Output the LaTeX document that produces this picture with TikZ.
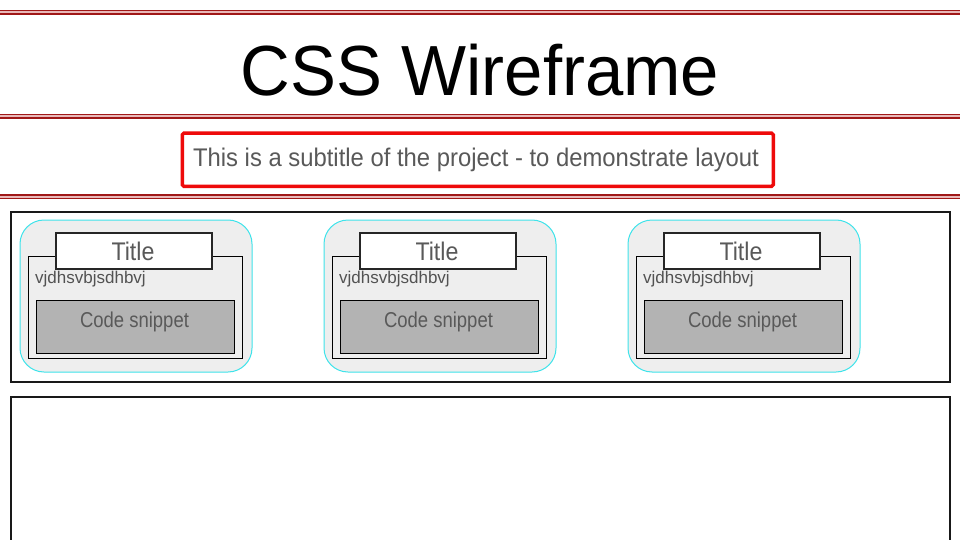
\documentclass[tikz,border=0pt]{standalone}
\usepackage{fontspec}
\setmainfont{Liberation Sans}
\definecolor{rulered}{HTML}{A01818}
\definecolor{rulepink}{HTML}{E9B9B9}
\definecolor{subred}{HTML}{EE0A0A}
\definecolor{txtgray}{HTML}{595959}
\definecolor{cardcyan}{HTML}{3FE3EA}
\definecolor{cardfill}{HTML}{EEEEEE}
\definecolor{codefill}{HTML}{B3B3B3}
\tikzset{
  redrule/.style={rulered, line width=4.2pt},
  redrulein/.style={rulepink, line width=2pt},
  panel/.style={draw=black!90, line width=2pt, fill=none, inner sep=0pt, anchor=north west},
  card/.style={draw=cardcyan, fill=cardfill, line width=1pt, rounded corners=24pt, inner sep=0pt, anchor=north west, minimum width=232pt, minimum height=152pt},
  innerbox/.style={draw=black, line width=0.9pt, inner sep=0pt, anchor=north west, minimum width=214pt, minimum height=102pt},
  titlebox/.style={draw=black!85, fill=white, line width=2pt, inner sep=0pt, anchor=north west, minimum width=156pt, minimum height=36pt},
  codebox/.style={draw=black, fill=codefill, line width=1.3pt, inner sep=0pt, anchor=north west, minimum width=198pt, minimum height=53pt},
  lbl/.style={inner sep=0pt, text=txtgray},
}
\begin{document}
\begin{tikzpicture}[x=1pt,y=-1pt]
\useasboundingbox[fill=white] (0,0) rectangle (960,540);
% header rules
\foreach \yy in {12.5,116.5,196.5}{
  \draw[redrule] (0,\yy) -- (960,\yy);
  \draw[redrulein] (0,\yy) -- (960,\yy);
}
% title
\node[inner sep=0pt, anchor=base, text=black] (maintitle) at (480,96)
  {\fontsize{71}{71}\selectfont\scalebox{0.97}[1]{CSS Wireframe}};
% subtitle
\node[draw=subred, line width=3.5pt, rounded corners=1.5pt, inner sep=0pt,
  anchor=north west, minimum width=591pt, minimum height=53pt] (subbox) at (180.5,131.5) {};
\node[lbl, anchor=base] (subtxt) at (476,167)
  {\fontsize{25.5}{25.5}\selectfont\scalebox{0.935}[1]{This is a subtitle of the project - to demonstrate layout}};
% panels
\node[panel, minimum width=939pt, minimum height=170pt] (panelA) at (10,211) {};
\node[panel, minimum width=939pt, minimum height=160pt] (panelB) at (10,396) {};
% cards
\foreach \i/\cx in {1/19,2/323,3/627}{
  \node[card] (card\i) at (\cx+0.5,219.5) {};
  \node[innerbox] (inner\i) at (\cx+8.5,255.5) {};
  \node[codebox] (code\i) at (\cx+16.5,299.5) {};
  \node[lbl, text=black!65, anchor=center] (codetxt\i) at (\cx+115.5,322)
    {\fontsize{21.5}{21.5}\selectfont\scalebox{0.86}[1]{Code snippet}};
  \node[lbl, text=black!68, anchor=base west] (vj\i) at (\cx+16,283.5)
    {\fontsize{17}{17}\selectfont vjdhsvbjsdhbvj};
  \node[titlebox] (tbox\i) at (\cx+36,232) {};
  \node[lbl, anchor=base] (ttxt\i) at (\cx+114,260)
    {\fontsize{25.5}{25.5}\selectfont\scalebox{0.91}[1]{Title}};
}
\end{tikzpicture}
\end{document}
